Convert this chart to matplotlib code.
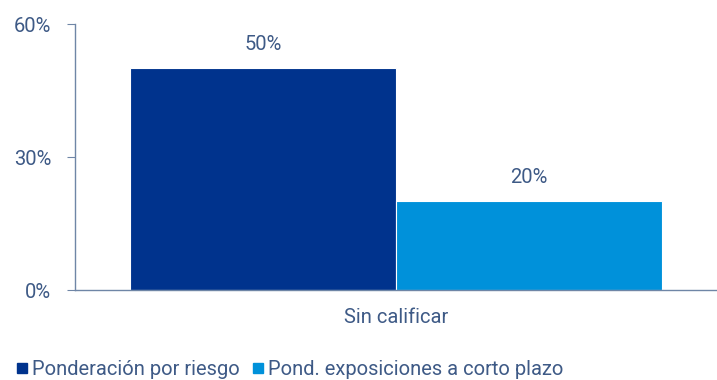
import matplotlib.pyplot as plt
from matplotlib.lines import Line2D

category = 'Sin calificar'
series = ['Ponderación por riesgo', 'Pond. exposiciones a corto plazo']
values = [50, 20]
colors = ['#00338D', '#0091DA']
text_color = '#3E5A86'
axis_color = '#6F86A6'

plt.rcParams['font.family'] = ['Roboto', 'DejaVu Sans']
fs = 14.5

fig = plt.figure(figsize=(7.17, 3.8), dpi=100)
ax = fig.add_axes([0.1046, 0.2368, 0.8954, 0.70])

width = 0.415
offsets = [-width / 2, width / 2]
for off, val, col in zip(offsets, values, colors):
    ax.bar(off, val, width=width, color=col, edgecolor='white', linewidth=0.8)
    ax.text(off, val + 5.3, '{}%'.format(val), ha='center', va='center',
            fontsize=fs, color=text_color)

ax.set_xlim(-0.5, 0.5)
ax.set_ylim(0, 60)
ax.set_yticks([0, 30, 60])
ax.set_yticklabels(['{}%'.format(v) for v in [0, 30, 60]])
ax.set_xticks([0])
ax.set_xticklabels([category])

for side in ['top', 'right']:
    ax.spines[side].set_visible(False)
for side in ['left', 'bottom']:
    ax.spines[side].set_color(axis_color)
    ax.spines[side].set_linewidth(1.0)
ax.tick_params(axis='y', colors=axis_color, labelcolor=text_color,
               labelsize=fs, length=6, pad=11)
ax.tick_params(axis='x', length=0, labelcolor=text_color, labelsize=fs, pad=13)

handles = [Line2D([], [], marker='s', linestyle='none', markersize=7,
                  color=c) for c in colors]
fig.legend(handles, series, loc='lower left', bbox_to_anchor=(0.0, -0.03),
           ncol=2, frameon=False, fontsize=fs, labelcolor=text_color,
           handletextpad=0.0, columnspacing=0.4, handlelength=1.0,
           borderaxespad=0.2)

fig.savefig('out.png')
plt.close(fig)
